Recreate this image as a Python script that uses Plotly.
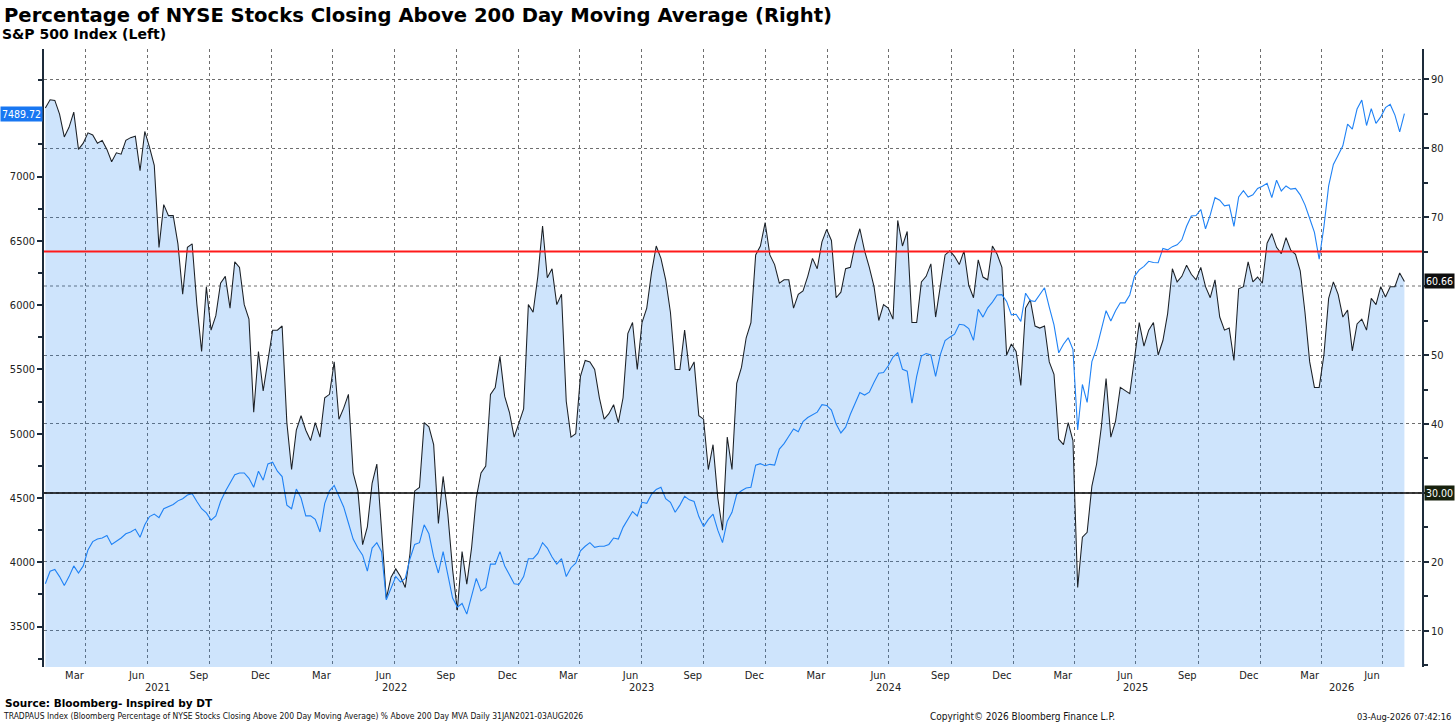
import pandas as pd
import plotly.graph_objects as go

# weekly readings, 31 Jan 2021 -> 2 Aug 2026
dates = pd.date_range("2021-01-31", "2026-08-02", freq="7D")

# % of NYSE stocks above 200 day moving average (right axis)
pct_above_200dma = [
    85.8, 87.0, 86.9, 84.9, 81.6, 83.0, 85.2, 79.8, 80.7, 82.2,
    81.9, 80.7, 81.1, 79.8, 78.0, 79.3, 79.1, 81.1, 81.5, 81.7,
    76.7, 82.4, 80.1, 77.5, 65.6, 71.8, 70.2, 70.2, 66.1, 58.8,
    65.6, 66.1, 57.3, 50.5, 59.9, 53.6, 55.7, 60.4, 61.4, 56.8,
    63.5, 62.7, 57.3, 55.2, 41.7, 50.5, 44.8, 49.5, 53.6, 53.6,
    54.2, 40.2, 33.4, 39.1, 41.2, 39.1, 37.6, 40.2, 38.1, 43.8,
    44.3, 49.0, 40.7, 42.3, 44.3, 32.9, 30.3, 22.5, 25.1, 31.4,
    34.2, 24.6, 14.7, 17.8, 19.0, 17.9, 16.3, 21.2, 30.3, 30.8,
    40.2, 39.6, 37.0, 25.6, 32.4, 26.9, 18.9, 13.0, 21.5, 16.8,
    22.0, 29.3, 32.9, 33.9, 44.3, 45.3, 49.8, 44.0, 41.7, 38.1,
    40.2, 42.2, 57.3, 56.2, 61.4, 68.7, 61.2, 62.5, 57.3, 58.8,
    43.3, 38.1, 38.6, 46.9, 49.2, 49.0, 47.9, 43.8, 40.7, 41.5,
    42.8, 40.2, 43.8, 53.1, 54.7, 47.9, 54.7, 56.8, 61.9, 65.8,
    64.0, 60.9, 56.2, 47.9, 47.9, 53.6, 47.7, 49.0, 41.2, 40.7,
    33.4, 37.0, 29.3, 24.6, 38.1, 33.4, 45.9, 48.2, 52.5, 54.7,
    64.5, 65.8, 69.2, 64.5, 63.1, 60.4, 60.9, 60.9, 56.8, 58.8,
    59.3, 61.4, 64.0, 62.5, 66.4, 68.2, 66.6, 58.3, 59.1, 62.5,
    62.7, 66.0, 68.3, 65.1, 62.7, 59.9, 55.0, 57.3, 56.8, 55.2,
    69.5, 65.8, 67.9, 54.7, 54.7, 60.6, 61.4, 63.2, 55.5, 59.9,
    64.5, 65.1, 64.3, 63.1, 65.1, 60.1, 58.3, 63.8, 61.3, 60.9,
    65.8, 64.6, 62.7, 50.0, 51.6, 50.5, 45.6, 56.8, 58.0, 54.2,
    53.9, 54.2, 49.0, 47.2, 37.8, 37.0, 40.2, 37.6, 16.3, 23.6,
    24.3, 31.0, 34.2, 39.6, 46.6, 38.1, 40.4, 45.3, 44.8, 44.4,
    49.5, 54.7, 51.3, 53.6, 54.7, 50.0, 52.1, 56.0, 62.5, 60.6,
    61.4, 63.0, 61.7, 60.9, 62.7, 59.9, 58.3, 60.9, 55.5, 53.6,
    53.9, 49.2, 59.6, 59.9, 63.5, 60.6, 61.3, 60.4, 66.2, 67.6,
    65.6, 64.7, 67.0, 65.2, 64.6, 62.2, 56.2, 49.0, 45.3, 45.3,
    50.0, 58.2, 60.6, 58.8, 55.5, 56.5, 50.6, 54.5, 55.2, 53.6,
    58.2, 57.3, 59.9, 58.4, 59.9, 59.9, 61.9, 60.66,
]

# S&P 500 index (left axis)
spx = [
    3833, 3931, 3944, 3889, 3819, 3889, 3972, 3917, 3972, 4097,
    4161, 4181, 4189, 4208, 4139, 4161, 4189, 4222, 4236, 4258,
    4195, 4292, 4356, 4375, 4348, 4417, 4431, 4450, 4478, 4495,
    4523, 4534, 4473, 4417, 4384, 4328, 4361, 4473, 4550, 4612,
    4681, 4695, 4695, 4653, 4584, 4709, 4639, 4765, 4778, 4709,
    4667, 4445, 4417, 4570, 4500, 4361, 4361, 4334, 4236, 4459,
    4556, 4598, 4514, 4431, 4306, 4181, 4111, 4056, 3931, 4111,
    4153, 4083, 3708, 3805, 3890, 3847, 3875, 4028, 4139, 4153,
    4292, 4222, 4042, 3917, 4083, 3903, 3722, 3652, 3680, 3597,
    3736, 3875, 3778, 3805, 3986, 3986, 4083, 3972, 3903, 3833,
    3828, 3889, 4028, 4028, 4069, 4153, 4111, 4042, 3986, 4028,
    3889, 3958, 3994, 4089, 4125, 4153, 4117, 4125, 4125, 4139,
    4189, 4181, 4272, 4334, 4395, 4361, 4467, 4459, 4528, 4567,
    4584, 4495, 4467, 4389, 4445, 4514, 4486, 4473, 4356, 4278,
    4334, 4375, 4250, 4153, 4320, 4389, 4528, 4556, 4578, 4584,
    4756, 4767, 4751, 4762, 4756, 4881, 4923, 4981, 5037, 5015,
    5095, 5126, 5145, 5168, 5226, 5220, 5184, 5076, 5006, 5051,
    5151, 5240, 5320, 5301, 5323, 5401, 5471, 5476, 5529, 5596,
    5629, 5501, 5487, 5237, 5446, 5604, 5624, 5612, 5446, 5615,
    5724, 5751, 5774, 5851, 5846, 5818, 5726, 5968, 5907, 5979,
    6024, 6079, 6082, 6029, 5924, 5929, 5874, 6093, 6035, 6029,
    6079, 6135, 5985, 5846, 5629, 5696, 5746, 5657, 5029, 5383,
    5244, 5561, 5664, 5821, 5957, 5876, 5957, 6018, 6018, 6079,
    6224, 6274, 6302, 6341, 6332, 6330, 6441, 6430, 6455, 6469,
    6508, 6613, 6694, 6697, 6744, 6594, 6702, 6836, 6816, 6772,
    6780, 6613, 6841, 6891, 6841, 6858, 6908, 6925, 6947, 6836,
    6972, 6888, 6927, 6902, 6908, 6858, 6780, 6674, 6566, 6357,
    6610, 6927, 7094, 7166, 7239, 7408, 7369, 7525, 7595, 7397,
    7528, 7414, 7464, 7536, 7561, 7478, 7347, 7489.72,
]

upper_level = 65
lower_level = 30

# labelled ticks; 30, 60 and 7500 sit under the value tags so they only get tick marks
pct_ticks = [10, 20, 40, 50, 70, 80, 90]
pct_minor = [5, 15, 25, 30, 35, 45, 55, 60, 65, 75, 85]
spx_ticks = [3500, 4000, 4500, 5000, 5500, 6000, 6500, 7000]
spx_minor = [3250, 3750, 4250, 4750, 5250, 5750, 6250, 6750, 7250, 7500, 7750]
grid_levels = [10, 20, 30, 40, 50, 60, 70, 80, 90]

years = [2021, 2022, 2023, 2024, 2025, 2026]
month_names = ["Mar", "Jun", "Sep", "Dec"]
month_ticks = []
month_labels = []
for y in years:
    for m, name in zip([3, 6, 9, 12], month_names):
        if y == 2026 and m > 6:
            continue
        month_ticks.append(f"{y}-{m:02d}-15")
        month_labels.append(name)
quarter_grid = [f"{y}-{m:02d}-01" for y in years for m in [1, 4, 7, 10]
                if "2021-02-01" < f"{y}-{m:02d}-01" < "2026-08-01"]
year_pos = ["2021-07-16", "2022-07-01", "2023-07-01", "2024-07-01", "2025-07-01", "2026-05-01"]

FONT = "DejaVu Sans Condensed, DejaVu Sans, sans-serif"
TITLE_FONT = "DejaVu Sans, Verdana, sans-serif"
AXIS_COL = "#1d2b3a"
GRID_COL = "#6e6e6e"

# pixel helpers for paper coordinates (plot area 44..1422, 49..667)
def px(X):
    return (X - 44) / 1378.0

def py(Y):
    return (666.7 - Y) / 617.4

fig = go.Figure()

fig.add_trace(go.Scatter(
    x=dates, y=pct_above_200dma, yaxis="y", mode="lines",
    line=dict(color="#1b2026", width=1.05),
    fill="tozeroy", fillcolor="rgba(30,130,240,0.22)",
    name="% Above 200 DMA"
))
fig.add_trace(go.Scatter(
    x=dates, y=spx, yaxis="y2", mode="lines",
    line=dict(color="#1f82f5", width=1.1),
    name="S&P 500"
))

fig.add_hline(y=upper_level, line=dict(color="#ff1a1a", width=2), layer="above")
fig.add_hline(y=lower_level, line=dict(color="#000000", width=1.6), layer="above")

annotations = [
    dict(text="<b>Percentage of NYSE Stocks Closing Above 200 Day Moving Average (Right)</b>",
         x=px(2), y=py(16), xanchor="left", yanchor="middle",
         font=dict(family=TITLE_FONT, size=19.6, color="#000")),
    dict(text="<b>S&P 500 Index (Left)</b>",
         x=px(0), y=py(34), xanchor="left", yanchor="middle",
         font=dict(family=TITLE_FONT, size=14, color="#000")),
    dict(text="<b>Source: Bloomberg- Inspired by DT</b>",
         x=px(3), y=py(703), xanchor="left", yanchor="middle",
         font=dict(family=TITLE_FONT, size=10.5, color="#000")),
    dict(text="TRADPAUS Index (Bloomberg Percentage of NYSE Stocks Closing Above 200 Day Moving Average) "
              "% Above 200 Day MVA Daily 31JAN2021-03AUG2026",
         x=px(1), y=py(716), xanchor="left", yanchor="middle",
         font=dict(family=FONT, size=8.5, color="#111")),
    dict(text="Copyright© 2026 Bloomberg Finance L.P.",
         x=px(1022), y=py(716), xanchor="center", yanchor="middle",
         font=dict(family=FONT, size=10, color="#111")),
    dict(text="03-Aug-2026 07:42:16",
         x=px(1453), y=py(716), xanchor="right", yanchor="middle",
         font=dict(family=FONT, size=9.3, color="#111")),
    # last-value tags
    dict(text=f"{spx[-1]:.2f}", x=0, xref="paper", xanchor="right", xshift=-1,
         y=spx[-1], yref="y2", yanchor="middle", showarrow=False,
         bgcolor="#1877f2", borderpad=1, font=dict(family=FONT, size=10.5, color="white")),
    dict(text=f"{pct_above_200dma[-1]:.2f}", x=1, xref="paper", xanchor="left", xshift=2,
         y=pct_above_200dma[-1], yref="y", yanchor="middle", showarrow=False,
         bgcolor="#0e0e0e", borderpad=1, font=dict(family=FONT, size=10.5, color="white")),
    dict(text=f"{lower_level:.2f}", x=1, xref="paper", xanchor="left", xshift=2,
         y=lower_level, yref="y", yanchor="middle", showarrow=False,
         bgcolor="#17210d", borderpad=1, font=dict(family=FONT, size=10.5, color="white")),
]
for yr, pos in zip(years, year_pos):
    annotations.append(dict(text=str(yr), x=pos, xref="x", y=py(687), yref="paper",
                            xanchor="center", yanchor="middle", showarrow=False,
                            font=dict(family=FONT, size=11, color="#222")))
for a in annotations:
    a.setdefault("xref", "paper")
    a.setdefault("yref", "paper")
    a.setdefault("showarrow", False)

fig.update_layout(
    width=1456, height=723, autosize=False,
    margin=dict(l=44, r=34, t=49, b=56, autoexpand=False),
    paper_bgcolor="white", plot_bgcolor="white",
    showlegend=False,
    font=dict(family=FONT, size=11, color="#222"),
    annotations=annotations,
    xaxis=dict(
        type="date", range=["2021-01-29", "2026-08-28"], automargin=False,
        tickmode="array", tickvals=month_ticks, ticktext=month_labels,
        ticks="", showgrid=False, showline=False, zeroline=False,
        tickfont=dict(size=11, color="#222"),
        minor=dict(tickmode="array", tickvals=quarter_grid, ticks="",
                   showgrid=True, gridcolor=GRID_COL, griddash="dot", gridwidth=1),
    ),
    yaxis=dict(
        side="right", range=[4.78, 94.35], automargin=False,
        tickmode="array", tickvals=pct_ticks,
        ticks="outside", ticklen=5, tickwidth=2, tickcolor=AXIS_COL,
        showline=True, linecolor=AXIS_COL, linewidth=1.5,
        showgrid=True, gridcolor=GRID_COL, griddash="dot", gridwidth=1,
        zeroline=False, tickfont=dict(size=11, color="#222"),
        minor=dict(tickmode="array", tickvals=pct_minor, ticks="outside",
                   ticklen=4, tickwidth=1.5, tickcolor=AXIS_COL, showgrid=False),
    ),
    yaxis2=dict(
        overlaying="y", side="left", range=[3186, 7992], automargin=False,
        tickmode="array", tickvals=spx_ticks,
        ticks="outside", ticklen=5, tickwidth=2, tickcolor=AXIS_COL,
        showline=True, linecolor=AXIS_COL, linewidth=1.5,
        showgrid=False, zeroline=False, tickfont=dict(size=11, color="#222"),
        minor=dict(tickmode="array", tickvals=spx_minor, ticks="outside",
                   ticklen=4, tickwidth=1.5, tickcolor=AXIS_COL, showgrid=False),
    ),
)

# 30 and 60 have no labels, so draw their grid lines separately
for lvl in grid_levels:
    if lvl not in pct_ticks:
        fig.add_hline(y=lvl, line=dict(color=GRID_COL, width=1, dash="dot"), layer="below")

fig.write_html(
    "out.html",
    config={"responsive": False, "displayModeBar": False},
    post_script="document.body.style.margin='0';document.body.style.overflow='hidden';",
)
